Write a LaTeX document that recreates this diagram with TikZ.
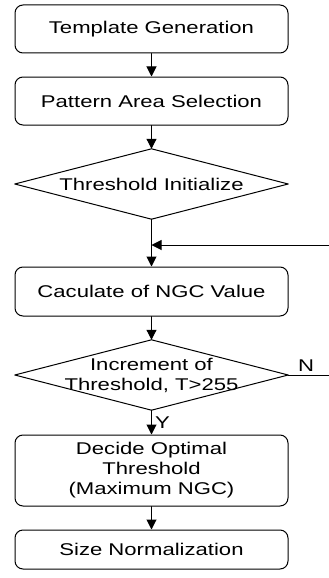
\documentclass[tikz,border=0pt]{standalone}
\usepackage{fontspec}
\newfontfamily\flowfont[FakeStretch=1.3]{Liberation Sans}
\usetikzlibrary{arrows.meta}
\begin{document}
\begin{tikzpicture}[x=1pt,y=-1pt,line cap=round,line join=round,
  font=\flowfont\fontsize{17}{20}\selectfont,
  procbox/.style={draw,line width=1pt,rounded corners=8pt,minimum width=273pt,align=center,inner sep=0pt},
  decbox/.style={minimum width=273pt,minimum height=70pt,align=center,inner sep=0pt},
  flow/.style={line width=1pt,-{Triangle[length=10pt,width=10pt]}}]
  \useasboundingbox (0,0) rectangle (329,578);
  \node[procbox,minimum height=48pt] (tmpl) at (151.5,29) {Template Generation};
  \node[procbox,minimum height=48pt] (area) at (151.5,101) {Pattern Area Selection};
  \node[decbox] (init) at (151.5,184) {Threshold Initialize};
  \coordinate (join) at (151.5,245);
  \node[procbox,minimum height=49pt] (ngc) at (151.5,291.5) {Caculate of NGC Value};
  \node[decbox] (incr) at (151.5,375) {Increment of\\Threshold, T>255};
  \node[procbox,minimum height=71pt] (opt) at (151.5,470.5) {Decide Optimal\\Threshold\\(Maximum NGC)};
  \node[procbox,minimum height=39pt] (norm) at (151.5,549.5) {Size Normalization};
  \foreach \d in {init,incr} {\draw[line width=1pt] (\d.north) -- (\d.east) -- (\d.south) -- (\d.west) -- cycle;}
  \draw[flow] (tmpl) -- (area);
  \draw[flow] (area) -- (init.north);
  \draw[line width=1pt] (init.south) -- (join);
  \draw[flow] (join) -- (ngc);
  \draw[flow] (ngc) -- (incr.north);
  \draw[flow] (incr.south) -- node[right,inner sep=3pt,pos=0.5] (yes) {Y} (opt);
  \draw[flow] (incr.east) -- ++(60,0) node[pos=0.3,above,inner sep=3pt] (no) {N} |- (join);
  \draw[flow] (opt) -- (norm);
\end{tikzpicture}
\end{document}
